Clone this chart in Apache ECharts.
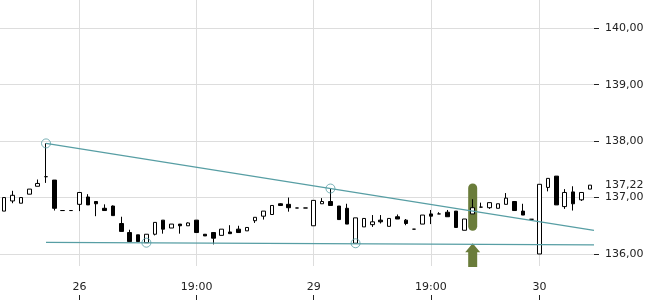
<!DOCTYPE html>
<html>
<head>
<meta charset="utf-8">
<style>
html,body{margin:0;padding:0;background:#fff;}
#chart{width:650px;height:300px;}
</style>
<script src="https://cdn.jsdelivr.net/npm/echarts@6/dist/echarts.min.js"></script>
</head>
<body>
<div id="chart"></div>
<script>
// ---- data ----
const opens  = [136.76,136.94,136.90,137.06,137.20,137.37,137.31,136.77,136.77,136.88,
                137.01,136.93,136.81,136.85,136.54,136.38,136.34,136.20,136.35,136.60,
                136.46,136.53,136.50,136.60,136.35,136.38,136.33,136.39,136.44,136.41,
                136.59,136.67,136.70,136.89,136.88,136.815,136.815,136.50,136.89,136.93,
                136.85,136.81,136.19,136.48,136.52,136.60,136.49,136.66,136.60,136.44,
                136.53,136.71,136.71,136.74,136.76,136.42,136.71,136.83,136.82,136.81,
                136.88,136.93,136.76,136.615,136.00,137.18,137.38,136.84,137.10,136.96,137.15];
const closes = [137.00,137.04,137.00,137.15,137.25,137.37,136.81,136.77,136.77,137.09,
                136.87,136.89,136.77,136.68,136.40,136.22,136.22,136.35,136.56,136.44,
                136.53,136.50,136.55,136.38,136.32,136.28,136.44,136.36,136.38,136.47,
                136.65,136.76,136.86,136.86,136.82,136.815,136.815,136.95,136.93,136.86,
                136.61,136.53,136.64,136.63,136.57,136.57,136.63,136.62,136.54,136.44,
                136.69,136.67,136.71,136.66,136.47,136.62,136.82,136.83,136.91,136.89,
                136.99,136.77,136.69,136.615,137.235,137.34,136.87,137.09,136.89,137.09,137.22];
const lows   = [136.76,136.90,136.90,137.06,137.20,137.26,136.77,136.77,136.77,136.76,
                136.87,136.67,136.77,136.68,136.40,136.22,136.22,136.20,136.33,136.36,
                136.46,136.36,136.50,136.38,136.32,136.17,136.33,136.36,136.38,136.41,
                136.55,136.61,136.70,136.86,136.75,136.815,136.815,136.50,136.89,136.86,
                136.61,136.53,136.19,136.48,136.48,136.54,136.49,136.62,136.51,136.44,
                136.53,136.53,136.71,136.66,136.47,136.42,136.71,136.83,136.80,136.81,
                136.88,136.77,136.69,136.615,136.00,137.11,136.87,136.80,136.77,136.94,137.15];
const highs  = [137.00,137.12,137.00,137.15,137.32,137.96,137.31,136.77,136.77,137.09,
                137.06,136.93,136.88,136.86,136.66,136.43,136.34,136.35,136.56,136.60,
                136.53,136.53,136.56,136.60,136.35,136.38,136.44,136.51,136.50,136.47,
                136.65,136.76,136.86,136.90,137.00,136.815,136.815,136.95,136.99,137.16,
                136.85,136.89,136.64,136.63,136.69,136.69,136.63,136.70,136.62,136.44,
                136.69,136.78,136.74,136.78,136.76,136.62,136.97,136.91,136.91,136.89,
                137.08,136.93,136.89,136.615,137.235,137.34,137.38,137.15,137.20,137.09,137.22];

const xLabelIndex = [9, 23, 37, 51, 64];
const xLabelText  = ['26', '19:00', '29', '19:00', '30'];
const yTicks = [136, 137, 138, 139, 140];

const resistanceLine = [[5, 137.96], [70.5, 136.42]];
const supportLine    = [[5, 136.207], [70.5, 136.16]];
const pivotPoints    = [[5, 137.96], [39, 137.16], [17, 136.20], [42, 136.19]];

const signalIndex = 56;
const signalBox   = [137.25, 136.41];   // top, bottom price of the marker
const signalArrow = [136.19, 135.77];   // tip, tail price of the arrow
// ---------------

const candleData = opens.map((o, i) => [i, o, closes[i], lows[i], highs[i]]);
const lastClose = closes[closes.length - 1];
const fmt = v => v.toFixed(2).replace('.', ',');

const teal = '#579ea4';
const green = '#6a7c3a';
const font = 'DejaVu Sans';

const chart = echarts.init(document.getElementById('chart'), null, {renderer: 'canvas'});
chart.setOption({
  animation: false,
  backgroundColor: '#fff',
  grid: {left: 0, right: 56, top: 0, bottom: 34, containLabel: false},
  xAxis: [{
    type: 'value', min: -0.5, max: 70.5, position: 'bottom',
    axisLine: {show: false, onZero: false},
    axisTick: {show: false, customValues: xLabelIndex},
    axisLabel: {
      customValues: xLabelIndex,
      formatter: v => xLabelText[xLabelIndex.indexOf(Math.round(v))] || '',
      color: '#222', fontFamily: font, fontSize: 11, margin: 16
    },
    splitLine: {show: true, lineStyle: {color: '#dddddd', width: 1}}
  }, {
    type: 'value', min: -0.5, max: 70.5, position: 'bottom', offset: 29,
    axisLine: {show: false, onZero: false},
    axisTick: {show: true, customValues: xLabelIndex, length: 5, lineStyle: {color: '#222'}},
    axisLabel: {show: false},
    splitLine: {show: false}
  }],
  yAxis: [{
    type: 'value', position: 'right', min: 135.787, max: 140.5016,
    axisLine: {show: false, onZero: false},
    axisTick: {show: true, customValues: yTicks, length: 5, lineStyle: {color: '#222'}},
    axisLabel: {customValues: yTicks, formatter: fmt, color: '#222', fontFamily: font, fontSize: 11, margin: 11},
    splitLine: {show: true, lineStyle: {color: '#dddddd', width: 1}}
  }, {
    type: 'value', position: 'right', min: 135.787, max: 140.5016,
    axisLine: {show: false, onZero: false},
    axisTick: {show: false, customValues: [lastClose]},
    axisLabel: {customValues: [lastClose], formatter: fmt, color: '#222', fontFamily: font, fontSize: 11, margin: 11},
    splitLine: {show: false}
  }],
  series: [{
    type: 'custom',
    z: 1,
    clip: false,
    data: [[signalIndex, signalBox[0], signalBox[1], signalArrow[0], signalArrow[1]]],
    encode: {x: 0, y: [1, 2, 3, 4]},
    renderItem: function (params, api) {
      const idx = api.value(0);
      const pTop = api.coord([idx, api.value(1)]);
      const pBot = api.coord([idx, api.value(2)]);
      const aTip = api.coord([idx, api.value(3)]);
      const aTail = api.coord([idx, api.value(4)]);
      const w = 9, hw = 7.5, headH = 9;
      return {
        type: 'group',
        children: [{
          type: 'rect',
          shape: {x: pTop[0] - w / 2, y: pTop[1], width: w, height: pBot[1] - pTop[1], r: 4.5},
          style: {fill: green}
        }, {
          type: 'polygon',
          shape: {points: [
            [aTip[0], aTip[1]],
            [aTip[0] + hw, aTip[1] + headH],
            [aTip[0] + w / 2, aTip[1] + headH],
            [aTip[0] + w / 2, aTail[1]],
            [aTip[0] - w / 2, aTail[1]],
            [aTip[0] - w / 2, aTip[1] + headH],
            [aTip[0] - hw, aTip[1] + headH]
          ]},
          style: {fill: green}
        }]
      };
    }
  }, {
    type: 'candlestick',
    z: 3,
    barWidth: 4,
    data: candleData,
    itemStyle: {
      color: '#ffffff', color0: '#000000',
      borderColor: '#000000', borderColor0: '#000000', borderColorDoji: '#000000',
      borderWidth: 1
    }
  }, {
    type: 'line', z: 4, data: resistanceLine, symbol: 'none',
    lineStyle: {color: teal, width: 1.2}
  }, {
    type: 'line', z: 4, data: supportLine, symbol: 'none',
    lineStyle: {color: teal, width: 1.2}
  }, {
    type: 'scatter', z: 5, data: pivotPoints, symbol: 'circle', symbolSize: 9,
    itemStyle: {color: 'rgba(0,0,0,0)', borderColor: teal, borderWidth: 1}
  }]
});
</script>
</body>
</html>
